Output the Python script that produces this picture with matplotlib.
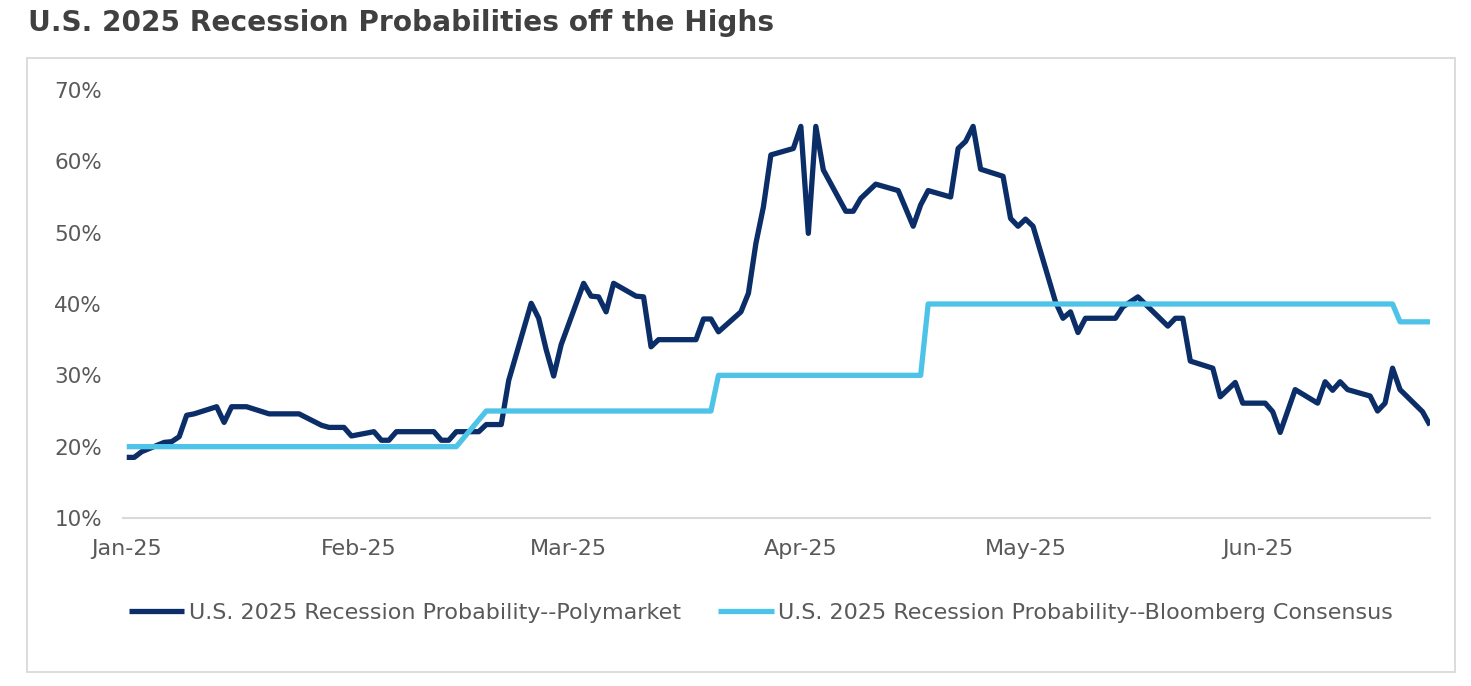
import matplotlib
matplotlib.use("Agg")
import matplotlib.pyplot as plt
import matplotlib.dates as mdates
from matplotlib.patches import Rectangle
from matplotlib.ticker import FuncFormatter, FixedLocator
import pandas as pd

# ---------------- data ----------------
poly_dates = [
    "2025-01-01", "2025-01-02", "2025-01-03", "2025-01-06", "2025-01-07", "2025-01-08",
    "2025-01-09", "2025-01-10", "2025-01-13", "2025-01-14", "2025-01-15", "2025-01-17",
    "2025-01-20", "2025-01-24", "2025-01-27", "2025-01-28", "2025-01-30", "2025-01-31",
    "2025-02-03", "2025-02-04", "2025-02-05", "2025-02-06", "2025-02-11", "2025-02-12",
    "2025-02-13", "2025-02-14", "2025-02-17", "2025-02-18", "2025-02-20", "2025-02-21",
    "2025-02-24", "2025-02-25", "2025-02-26", "2025-02-27", "2025-02-28", "2025-03-03",
    "2025-03-04", "2025-03-05", "2025-03-06", "2025-03-07", "2025-03-10", "2025-03-11",
    "2025-03-12", "2025-03-13", "2025-03-18", "2025-03-19", "2025-03-20", "2025-03-21",
    "2025-03-24", "2025-03-25", "2025-03-26", "2025-03-27", "2025-03-28", "2025-03-31",
    "2025-04-01", "2025-04-02", "2025-04-03", "2025-04-04", "2025-04-07", "2025-04-08",
    "2025-04-09", "2025-04-11", "2025-04-14", "2025-04-16", "2025-04-17", "2025-04-18",
    "2025-04-21", "2025-04-22", "2025-04-23", "2025-04-24", "2025-04-25", "2025-04-28",
    "2025-04-29", "2025-04-30", "2025-05-01", "2025-05-02", "2025-05-05", "2025-05-06",
    "2025-05-07", "2025-05-08", "2025-05-09", "2025-05-13", "2025-05-14", "2025-05-16",
    "2025-05-20", "2025-05-21", "2025-05-22", "2025-05-23", "2025-05-26", "2025-05-27",
    "2025-05-29", "2025-05-30", "2025-06-02", "2025-06-03", "2025-06-04", "2025-06-06",
    "2025-06-09", "2025-06-10", "2025-06-11", "2025-06-12", "2025-06-13", "2025-06-16",
    "2025-06-17", "2025-06-18", "2025-06-19", "2025-06-20", "2025-06-23", "2025-06-24",
]
poly_values = [
    18.5, 18.5, 19.3, 20.6, 20.7, 21.4,
    24.4, 24.6, 25.6, 23.4, 25.6, 25.6,
    24.6, 24.6, 23.0, 22.7, 22.7, 21.5,
    22.1, 20.9, 20.9, 22.1, 22.1, 20.9,
    20.9, 22.1, 22.1, 23.1, 23.1, 29.3,
    40.1, 38.0, 33.6, 29.9, 34.3, 42.9,
    41.1, 41.0, 38.9, 42.9, 41.1, 41.0,
    34.0, 35.0, 35.0, 37.9, 37.9, 36.1,
    38.9, 41.5, 48.5, 53.6, 60.9, 61.8,
    64.9, 49.9, 64.9, 58.8, 53.0, 53.0,
    54.8, 56.8, 55.9, 50.9, 53.9, 55.9,
    55.0, 61.8, 62.8, 64.9, 58.9, 57.9,
    52.0, 50.9, 51.9, 50.9, 40.3, 38.0,
    38.9, 36.0, 38.0, 38.0, 39.6, 41.0,
    36.9, 38.0, 38.0, 32.0, 31.0, 27.0,
    29.0, 26.1, 26.1, 24.9, 22.0, 28.0,
    26.1, 29.1, 27.9, 29.1, 28.0, 27.1,
    25.0, 26.1, 31.0, 28.0, 24.9, 23.0,
]

bbg_dates = [
    "2025-01-01", "2025-02-14", "2025-02-18", "2025-03-20", "2025-03-21",
    "2025-04-17", "2025-04-18", "2025-06-19", "2025-06-20", "2025-06-24",
]
bbg_values = [20.0, 20.0, 25.0, 25.0, 30.0, 30.0, 40.0, 40.0, 37.5, 37.5]

tick_dates = ["2025-01-01", "2025-02-01", "2025-03-01", "2025-04-01", "2025-05-01", "2025-06-01"]
tick_labels = ["Jan-25", "Feb-25", "Mar-25", "Apr-25", "May-25", "Jun-25"]
y_ticks = [10, 20, 30, 40, 50, 60, 70]

series_names = [
    "U.S. 2025 Recession Probability--Polymarket",
    "U.S. 2025 Recession Probability--Bloomberg Consensus",
]
title = "U.S. 2025 Recession Probabilities off the Highs"

# ---------------- style ----------------
NAVY = "#0B2D68"
SKY = "#4EC3E8"
TXT = "#595959"
FONT = "DejaVu Sans"

W, H = 1471, 686
fig = plt.figure(figsize=(W / 100, H / 100), dpi=100)
plt.rcParams["font.family"] = [FONT]

# outer frame
fig.patches.append(Rectangle((27 / W, 1 - 672 / H), (1455 - 27) / W, (672 - 58) / H,
                             transform=fig.transFigure, fill=False,
                             edgecolor="#D9D9D9", linewidth=1.3))

fig.text(28 / W, 1 - 23 / H, title, fontsize=20.2, fontweight="bold",
         color="#404040", va="center", ha="left")

ax = fig.add_axes([123 / W, 1 - 518 / H, (1430 - 123) / W, (518 - 90) / H])

pd_poly = pd.to_datetime(poly_dates)
pd_bbg = pd.to_datetime(bbg_dates)
l1, = ax.plot(pd_poly, poly_values, color=NAVY, lw=3.8, solid_joinstyle="round",
              solid_capstyle="butt")
l2, = ax.plot(pd_bbg, bbg_values, color=SKY, lw=3.8, solid_joinstyle="round",
              solid_capstyle="butt")

x0 = mdates.date2num(pd.Timestamp("2025-01-01")) - 0.5
x1 = mdates.date2num(pd.Timestamp("2025-06-24"))
ax.set_xlim(x0, x1)
ax.set_ylim(10, 70)

ax.xaxis.set_major_locator(FixedLocator(mdates.date2num(pd.to_datetime(tick_dates))))
ax.set_xticklabels(tick_labels)
ax.set_yticks(y_ticks)
ax.yaxis.set_major_formatter(FuncFormatter(lambda v, p: f"{v:.0f}%"))

for s in ["top", "right", "left"]:
    ax.spines[s].set_visible(False)
ax.spines["bottom"].set_color("#D9D9D9")
ax.spines["bottom"].set_linewidth(1.5)
ax.tick_params(axis="both", length=0, colors=TXT)
ax.tick_params(axis="x", pad=15, labelsize=16)
ax.tick_params(axis="y", pad=15, labelsize=15.5)

fig.legend([l1, l2], series_names, loc="center", bbox_to_anchor=(761 / W, 1 - 613 / H),
           ncol=2, frameon=False, fontsize=16, handlelength=2.5, handletextpad=0.2,
           columnspacing=1.7, labelcolor=TXT)

fig.savefig("out.png", dpi=100)
